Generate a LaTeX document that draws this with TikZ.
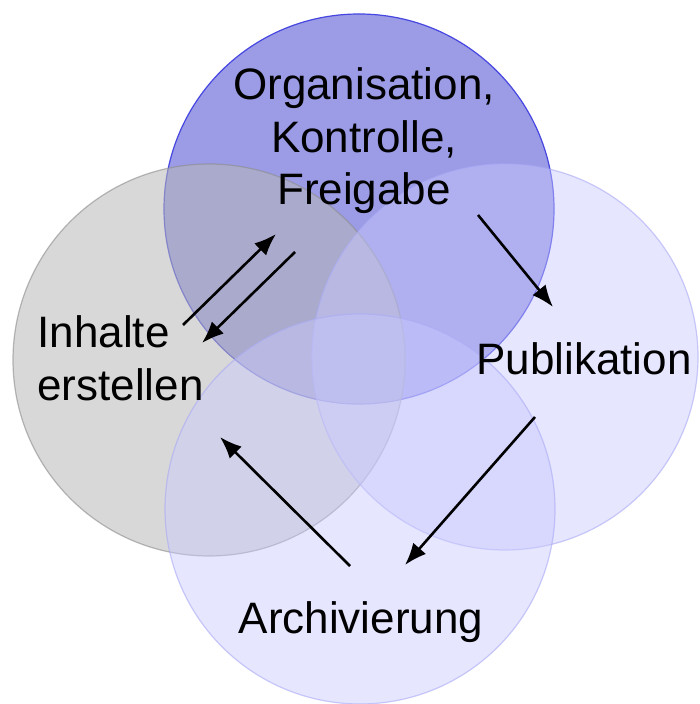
\documentclass[tikz,border=0pt]{standalone}
\usepackage{fontspec}
\setmainfont{Liberation Sans}
\usetikzlibrary{arrows.meta}
\definecolor{topfill}{RGB}{155,155,230}
\definecolor{topline}{RGB}{70,70,225}
\definecolor{leftfill}{RGB}{184,184,184}
\definecolor{leftline}{RGB}{140,140,140}
\definecolor{lavfill}{RGB}{201,201,255}
\definecolor{lavline}{RGB}{170,170,245}
\tikzset{
  ring/.style={line width=0.6pt},
  label/.style={inner sep=0pt, font=\fontsize{22}{26.4}\selectfont},
  flow/.style={line width=1.3pt, -{Latex[length=11pt,width=8.5pt]}}
}
\begin{document}
\begin{tikzpicture}[x=0.5pt,y=-0.5pt]
\useasboundingbox (0,0) rectangle (699,704);
\fill[white] (0,0) rectangle (699,704);
% circles
\path[ring, fill=topfill, draw=topline] (359,209) circle [radius=97.5pt];
\path[ring, fill=leftfill, fill opacity=0.55, draw=leftline, draw opacity=0.6] (209,360) circle [radius=98pt];
\path[ring, fill=lavfill, fill opacity=0.46, draw=lavline, draw opacity=0.6] (505,357) circle [radius=96.5pt];
\path[ring, fill=lavfill, fill opacity=0.46, draw=lavline, draw opacity=0.6] (360,509) circle [radius=97.5pt];
% labels
\node[label, align=center, anchor=base] (org) at (364,205) {Organisation,\\Kontrolle,\\Freigabe};
\node[label, align=left, anchor=base west] (inh) at (37,400) {Inhalte\\erstellen};
\node[label, anchor=base west] (pub) at (476,374) {Publikation};
\node[label, anchor=base] (arc) at (361,633) {Archivierung};
% arrow ends
\coordinate (a1s) at (183,325); \coordinate (a1e) at (276,234);
\coordinate (a2s) at (295,252); \coordinate (a2e) at (202,343);
\coordinate (a3s) at (478,215); \coordinate (a3e) at (553,307);
\coordinate (a4s) at (535,417); \coordinate (a4e) at (405,565);
\coordinate (a5s) at (350,566); \coordinate (a5e) at (220,437);
\draw[flow] (a1s) -- (a1e);
\draw[flow] (a2s) -- (a2e);
\draw[flow] (a3s) -- (a3e);
\draw[flow] (a4s) -- (a4e);
\draw[flow] (a5s) -- (a5e);
\end{tikzpicture}
\end{document}
